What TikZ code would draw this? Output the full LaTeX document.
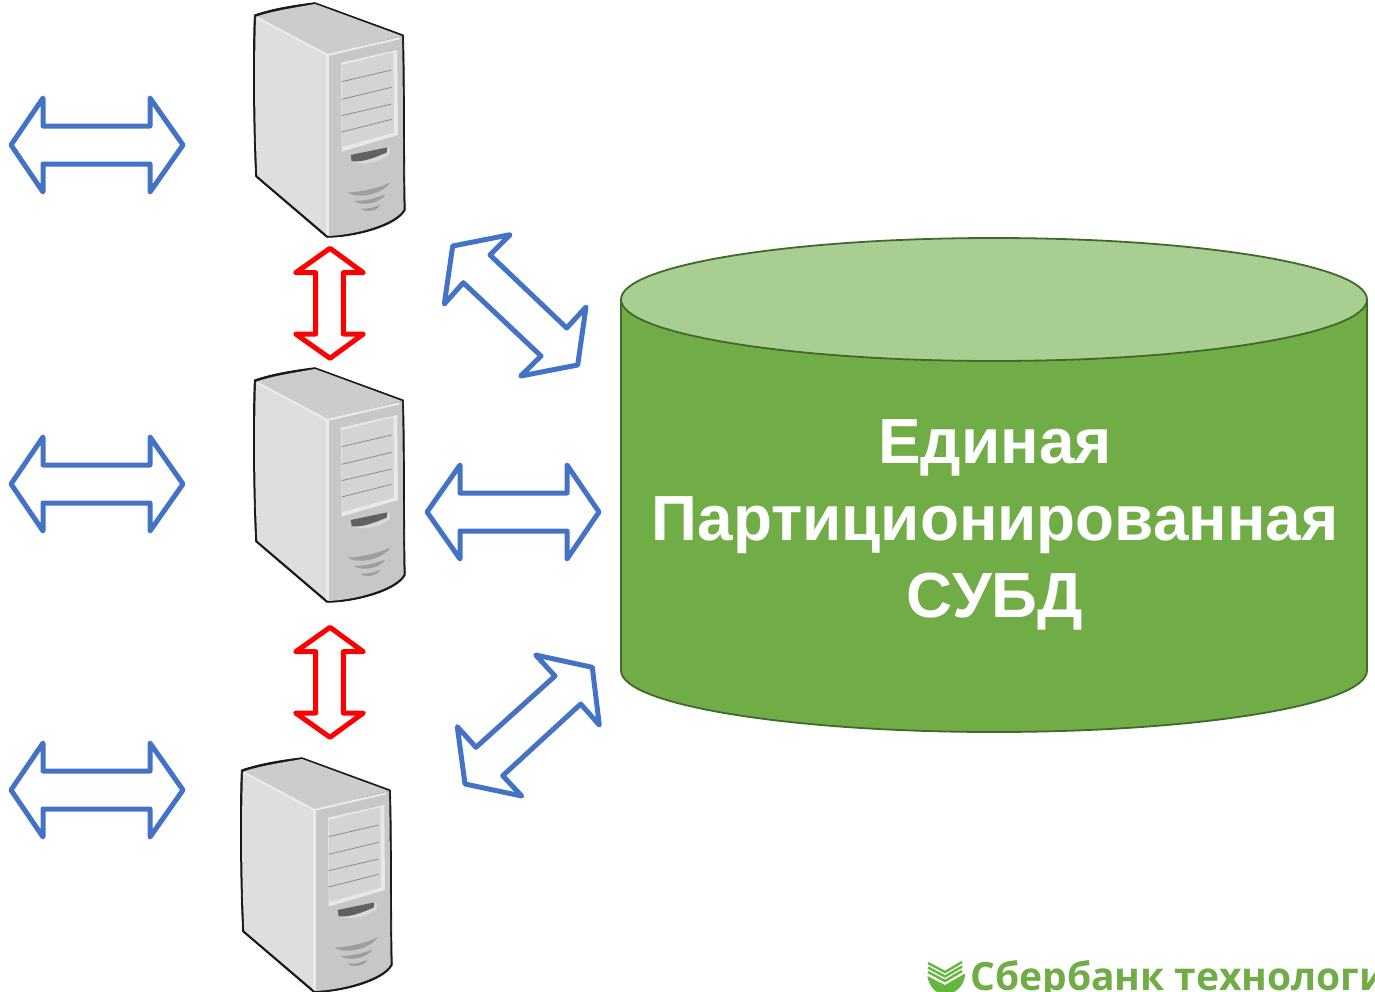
\documentclass[tikz,border=0pt]{standalone}
\usepackage{fontspec}
\setmainfont{Liberation Sans}
\newfontfamily\logofont{Open Sans}
\definecolor{arrowblue}{HTML}{4472C4}
\definecolor{dbgreen}{HTML}{70AD47}
\definecolor{dbtop}{HTML}{A9CE91}
\definecolor{dbline}{HTML}{42682B}
\tikzset{
  x=1pt,y=-1pt,
  blueshape/.style={draw=arrowblue,line width=5pt,line join=round,fill=white},
  redshape/.style={draw=red,line width=5pt,line join=round,fill=white},
  dbline/.style={draw=dbline,line width=1.8pt},
  hbar/.pic={\path[blueshape] (11,0)--(43,-47)--(43,-19)--(150,-19)--(150,-47)--(183,0)--(150,47)--(150,19)--(43,19)--(43,47)--cycle;},
  vbar/.pic={\path[redshape] (330,248.3)--(363.3,272.7)--(343.3,272.7)--(343.3,334)--(363.3,334)--(330,358.3)--(295.7,334)--(315.7,334)--(315.7,272.7)--(295.7,272.7)--cycle;},
  tower/.pic={
    \begin{scope}[x=0.3333pt,y=-0.3333pt]
      % body with black outline
      \path[fill=black!90,draw=black!90,line width=0.8pt,line join=round]
        (43,45) .. controls (100,25) and (170,15) .. (225,8)
        -- (490,105) .. controls (495,200) and (492,500) .. (496,630)
        .. controls (470,680) and (340,712) .. (260,712)
        -- (47,530) .. controls (40,400) and (38,150) .. (43,45) -- cycle;
      % left face
      \path[fill=black!13] (48,52) -- (262,165) -- (262,706) -- (52,527) .. controls (45,400) and (43,200) .. (48,52) -- cycle;
      % top face
      \path[fill=black!20] (48,50) .. controls (100,32) and (170,22) .. (225,12) -- (486,108) -- (262,165) -- cycle;
      % front face
      \path[fill=black!22] (262,165) -- (486,108) .. controls (490,250) and (488,500) .. (491,628)
        .. controls (465,674) and (340,706) .. (262,708) -- cycle;
      % highlights
      \path[draw=black!8,line width=2pt] (50,52) -- (262,165) -- (478,115);
      \path[draw=black!8,line width=3pt] (262,168) -- (262,704);
      % panel
      \path[fill=black!9] (303,188) -- (472,150) -- (474,405) -- (305,455) -- cycle;
      \path[fill=black!17] (305,195) -- (460,157) -- (462,398) -- (307,441) -- cycle;
      \foreach \a/\b in {245/210,298/262,347/312,396/358}
        \path[draw=black!45,line width=0.8pt] (305,\a) -- (455,\b);
      % slot
      \path[fill=white!85!black] (330,468) -- (445,440) .. controls (455,450) and (450,465) .. (440,470) .. controls (405,490) and (370,495) .. (335,485) -- cycle;
      \path[fill=black!62] (332,465) -- (442,442) -- (440,458) .. controls (410,470) and (370,488) .. (335,484) -- cycle;
      % vents
      \path[fill=black!38] (323,578) .. controls (370,575) and (415,565) .. (452,547) .. controls (430,580) and (360,600) .. (323,578) -- cycle;
      \path[fill=black!38] (342,603) .. controls (375,603) and (405,595) .. (436,584) .. controls (420,610) and (365,620) .. (342,603) -- cycle;
      \path[fill=black!38] (362,626) .. controls (385,627) and (405,622) .. (422,614) .. controls (410,635) and (375,638) .. (362,626) -- cycle;
    \end{scope}
  }
}
\begin{document}
\begin{tikzpicture}
\useasboundingbox (0,0) rectangle (1375,991);
% servers
\pic at (240,0) {tower};
\pic at (240,365) {tower};
\pic at (227,755) {tower};
% left arrows
\pic at (0,145) {hbar};
\pic at (0,484) {hbar};
\pic at (0,790) {hbar};
% red arrows
\pic at (0,0) {vbar};
\pic at (0,379) {vbar};
% arrows to database
\path[blueshape] (452.7,246)--(510,234.7)--(490,255)--(566.7,328)--(586,307)--(577.7,365)--(520.7,376)--(541,356)--(463.3,282.7)--(444.3,304)--cycle;
\path[blueshape] (427,512)--(460,465)--(460,493)--(567,493)--(567,465)--(599,512)--(567,559)--(567,531)--(460,531)--(460,559)--cycle;
\path[blueshape] (535.7,655)--(592.3,667.3)--(599.3,725)--(580.7,704)--(502.7,775.7)--(521.7,796)--(465,784)--(457.3,726.7)--(476,747.3)--(555,676)--cycle;
% database
\path[dbline,fill=dbgreen] (621,299.5) -- (621,670.5) arc[start angle=180,end angle=0,x radius=373,y radius=61.5] -- (1367,299.5) -- cycle;
\path[dbline,fill=dbtop] (994,299.5) ellipse[x radius=373,y radius=61.5];
\node[text=white,font=\fontsize{63.8}{77}\selectfont\bfseries,align=center] (dblabel) at (995,524.5) {Единая\\Партиционированная\\СУБД};
% logo
\begin{scope}
  \clip (900,950) rectangle (1375,991);
  \path[fill=dbgreen!88!green] (927.5,976) -- (945,985) -- (965,973.5) .. controls (965,985) and (957,991) .. (950,994) -- (940,994) .. controls (933,990) and (928,984) .. (927.5,976) -- cycle;
  \foreach \d in {0,4.5,9}
    \path[draw=dbgreen!88!green,line width=2.4pt] (928,{972-\d}) -- (945,{981-\d}) -- (962,{971-\d});
  \node[anchor=base west,inner sep=0pt,text=dbgreen,font=\logofont\bfseries\fontsize{39}{39}\selectfont] (logotext) at (970,990) {Сбербанк технологии};
\end{scope}
\end{tikzpicture}
\end{document}
